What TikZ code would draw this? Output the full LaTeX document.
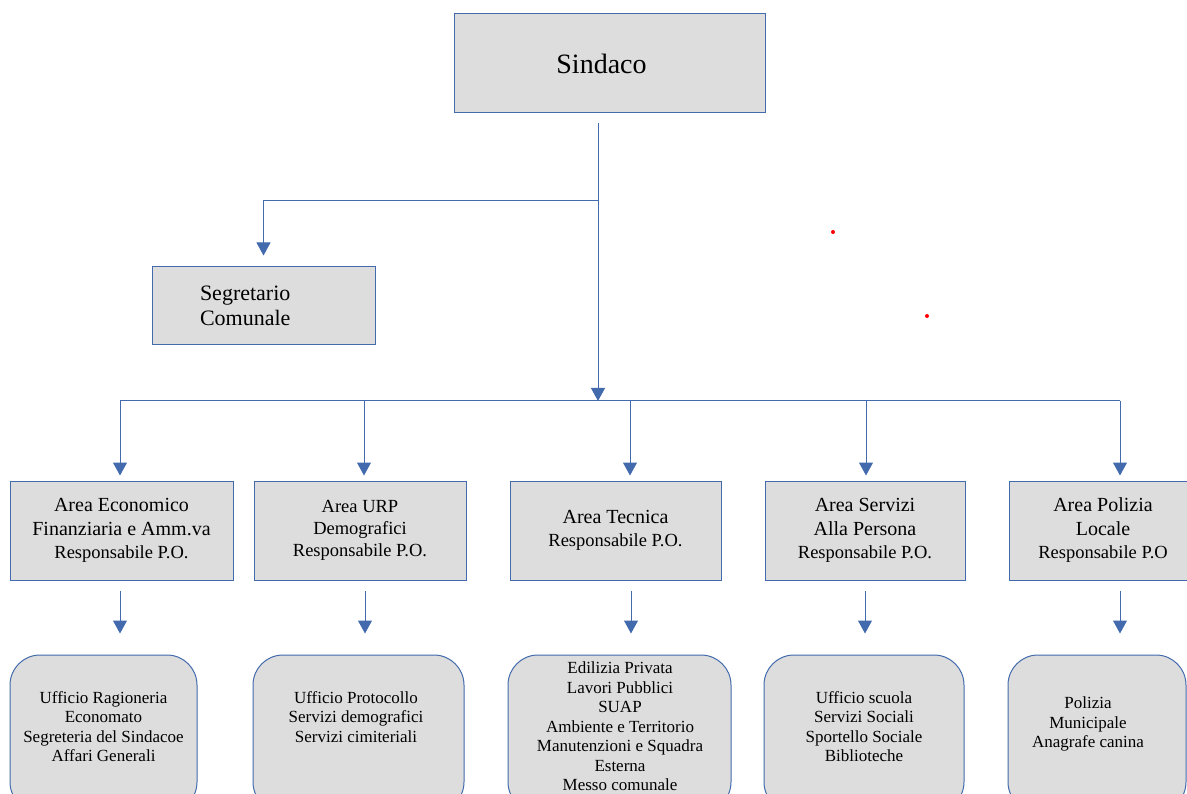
\documentclass[tikz,border=0pt]{standalone}
\usepackage{fontspec}
\setmainfont{Liberation Serif}
\usetikzlibrary{arrows.meta}

\definecolor{orgblue}{RGB}{66,106,172}
\definecolor{orggray}{RGB}{221,221,221}
\newcommand{\respfont}{\fontsize{18.5}{22}\selectfont}

\begin{document}
\begin{tikzpicture}[
    x=1pt, y=-1pt,
    box/.style={rectangle, draw=orgblue, fill=orggray, line width=1pt, inner sep=0pt, align=center},
    head/.style={box, minimum height=99pt, font=\fontsize{28}{32}\selectfont},
    area/.style={box, minimum height=99pt, font=\fontsize{20}{23.5}\selectfont},
    ufficio/.style={box, rounded corners=30pt, minimum height=157pt},
    uffitext/.style={align=center, inner sep=0pt, font=\fontsize{17}{19.5}\selectfont},
    line/.style={draw=orgblue, line width=1pt},
    arrow/.style={line, -{Triangle[width=14pt,length=13pt]}, orgblue},
    dot/.style={circle, fill=red, inner sep=0pt, minimum size=4pt}
]
\useasboundingbox (0,0) rectangle (1187,794);
\clip (0,0) rectangle (1187,794);

% Top
\node[head, minimum width=311pt] (sindaco) at (609.5,63.5) {Sindaco\hspace*{16pt}};
\node[box, minimum width=223pt, minimum height=78pt, text width=127pt, align=left,
      font=\fontsize{22}{25}\selectfont] (segretario) at (263.5,306) {Segretario\\Comunale};

% Areas
\node[area, minimum width=223pt] (economico) at (121.5,530.5) {Area Economico\\Finanziaria e Amm.va\\\respfont Responsabile P.O.};
\node[area, minimum width=212pt, font=\respfont] (urp) at (360,530.5) {Area URP\\Demografici\\Responsabile P.O.};
\node[area, minimum width=211pt] (tecnica) at (615.5,530.5) {Area Tecnica\\\respfont Responsabile P.O.};
\node[area, minimum width=200pt] (servizi) at (865,530.5) {Area Servizi\\Alla Persona\\\respfont Responsabile P.O.};
\node[area, minimum width=188pt] (polizia) at (1103,530.5) {Area Polizia\\Locale\\\respfont Responsabile P.O};

% Offices
\node[ufficio, minimum width=187pt] (ragioneria) at (103.5,733.5) {};
\node[ufficio, minimum width=211pt] (protocollo) at (358.5,733.5) {};
\node[ufficio, minimum width=223pt] (edilizia) at (619.5,733.5) {};
\node[ufficio, minimum width=200pt] (scuola) at (864,733.5) {};
\node[ufficio, minimum width=178pt] (municipale) at (1097,733.5) {};

\node[uffitext] (ragioneriaTxt) at (103.5,726.5) {Ufficio Ragioneria\\Economato\\Segreteria del Sindacoe\\Affari Generali};
\node[uffitext] (protocolloTxt) at (356,717) {Ufficio Protocollo\\Servizi demografici\\Servizi cimiteriali};
\node[uffitext] (ediliziaTxt) at (620,726.5) {Edilizia Privata\\Lavori Pubblici\\SUAP\\Ambiente e Territorio\\Manutenzioni e Squadra\\Esterna\\Messo comunale};
\node[uffitext] (scuolaTxt) at (864,726.5) {Ufficio scuola\\Servizi Sociali\\Sportello Sociale\\Biblioteche};
\node[uffitext] (municipaleTxt) at (1088,724) {Polizia\\Municipale\\Anagrafe canina};

% Stray marks
\node[dot] (dotA) at (833,232) {};
\node[dot] (dotB) at (927,316) {};

% Trunk
\coordinate (split) at (598,201);
\coordinate (bus) at (598,401);
\draw[arrow, shorten <=10pt] (sindaco.south -| bus) -- (bus);
\draw[arrow, shorten >=11pt] (split) -| (segretario.north);

% Bus
\coordinate (b1) at (120,401);
\coordinate (b2) at (364,401);
\coordinate (b3) at (630,401);
\coordinate (b4) at (866,401);
\coordinate (b5) at (1120,401);
\draw[line] (b1) -- (b5);

\draw[arrow, shorten >=5pt] (b1) -- (b1 |- economico.north);
\draw[arrow, shorten >=5pt] (b2) -- (b2 |- urp.north);
\draw[arrow, shorten >=5pt] (b3) -- (b3 |- tecnica.north);
\draw[arrow, shorten >=5pt] (b4) -- (b4 |- servizi.north);
\draw[arrow, shorten >=5pt] (b5) -- (b5 |- polizia.north);

\draw[arrow, shorten <=10pt, shorten >=21pt] (b1 |- economico.south) -- (b1 |- ragioneria.north);
\draw[arrow, shorten <=10pt, shorten >=21pt] ([xshift=1pt]b2 |- urp.south) -- ([xshift=1pt]b2 |- protocollo.north);
\draw[arrow, shorten <=10pt, shorten >=21pt] ([xshift=1pt]b3 |- tecnica.south) -- ([xshift=1pt]b3 |- edilizia.north);
\draw[arrow, shorten <=10pt, shorten >=21pt] ([xshift=-1pt]b4 |- servizi.south) -- ([xshift=-1pt]b4 |- scuola.north);
\draw[arrow, shorten <=10pt, shorten >=21pt] (b5 |- polizia.south) -- (b5 |- municipale.north);

\end{tikzpicture}
\end{document}
